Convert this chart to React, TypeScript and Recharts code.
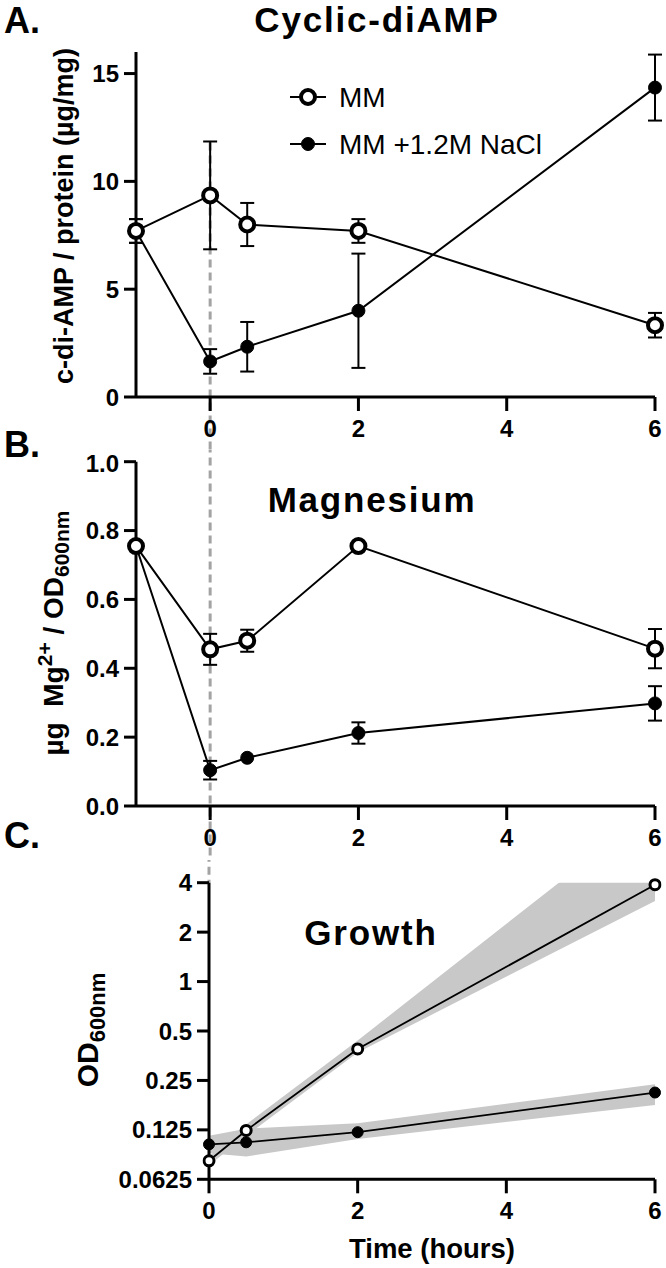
import React from "react";
import { ComposedChart, LineChart, Line, Area, XAxis, YAxis, ErrorBar, ReferenceLine, Legend } from "recharts";

const FONT = '"Liberation Sans", Arial, sans-serif';

const seriesNames = ["MM", "MM +1.2M NaCl"];

// panels A and B share the time points
const hoursAB = [-1, 0, 0.5, 2, 6];
const cdaMM = [7.7, 9.35, 8.0, 7.7, 3.33];
const cdaMMErr = [0.55, 2.5, 1.0, 0.55, 0.57];
const cdaNaCl = [7.7, 1.65, 2.33, 4.0, 14.35];
const cdaNaClErr = [0.55, 0.57, 1.15, 2.65, 1.53];

const mgMM = [0.755, 0.455, 0.48, 0.755, 0.457];
const mgMMErr = [0, 0.045, 0.032, 0, 0.057];
const mgNaCl = [0.755, 0.104, 0.14, 0.212, 0.298];
const mgNaClErr = [0, 0.027, 0, 0.031, 0.05];

// panel C
const hoursC = [0, 0.5, 2, 6];
const odMM = [0.081, 0.124, 0.389, 3.89];
const odMMLow = [0.076, 0.115, 0.37, 3.1];
const odMMHigh = [0.086, 0.135, 0.438, 11.5];
const odNaCl = [0.102, 0.105, 0.121, 0.211];
const odNaClLow = [0.09, 0.086, 0.11, 0.177];
const odNaClHigh = [0.115, 0.127, 0.137, 0.237];

const timeTicks = [0, 2, 4, 6];
const cdaTicks = [0, 5, 10, 15];
const mgTicks = [0, 0.2, 0.4, 0.6, 0.8, 1.0];
const odTicks = [0.0625, 0.125, 0.25, 0.5, 1, 2, 4];

const cdaRows = hoursAB.map((t, i) => ({ t, mm: cdaMM[i], mmErr: cdaMMErr[i], nacl: cdaNaCl[i], naclErr: cdaNaClErr[i] }));
const mgRows = hoursAB.map((t, i) => ({ t, mm: mgMM[i], mmErr: mgMMErr[i], nacl: mgNaCl[i], naclErr: mgNaClErr[i] }));
const odRows = hoursC.map((t, i) => ({
  t,
  mm: odMM[i],
  nacl: odNaCl[i],
  mmBand: [odMMLow[i], odMMHigh[i]],
  naclBand: [odNaClLow[i], odNaClHigh[i]],
}));

const tickStyle = { fill: "#000", fontSize: 24, fontWeight: 700, fontFamily: FONT };
const axisStroke = { stroke: "#000", strokeWidth: 3 };
const openDot = { r: 7, fill: "#fff", stroke: "#000", strokeWidth: 4 };
const fullDot = { r: 6.5, fill: "#000", stroke: "#000", strokeWidth: 1 };
const dash = { stroke: "#a3a3a3", strokeWidth: 3, strokeDasharray: "8 5" };

function RotTitle({ lx, ly, size, children }: any) {
  return (
    <text x={lx} y={ly} transform={`rotate(-90 ${lx} ${ly})`} textAnchor="middle"
      fontFamily={FONT} fontWeight={700} fontSize={size} fill="#000">
      {children}
    </text>
  );
}

function BottomTitle({ lx, ly, children }: any) {
  return (
    <text x={lx} y={ly} textAnchor="middle" fontFamily={FONT} fontWeight={700} fontSize={27.5} fill="#000">
      {children}
    </text>
  );
}

function LegendBox() {
  const dots = [openDot, fullDot];
  return (
    <svg width={300} height={84}>
      {seriesNames.map((name, i) => {
        const cy = 17 + i * 47;
        return (
          <g key={name}>
            <line x1={4} x2={40} y1={cy} y2={cy} stroke="#000" strokeWidth={2} />
            <circle cx={22} cy={cy} {...dots[i]} />
            <text x={53} y={cy} dominantBaseline="central" fontFamily={FONT} fontSize={28} fill="#000">{name}</text>
          </g>
        );
      })}
    </svg>
  );
}

export default function App() {
  return (
    <div style={{ position: "absolute", left: 0, top: 0, width: 666, height: 1268, background: "#fff" }}>
      {/* A: cyclic-di-AMP */}
      <div style={{ position: "absolute", left: 0, top: 0 }}>
        <LineChart width={666} height={450} data={cdaRows} margin={{ top: 52, right: 11, left: 0, bottom: 0 }}>
          <XAxis dataKey="t" type="number" domain={[-1, 6]} ticks={timeTicks} tick={tickStyle}
            axisLine={axisStroke} tickLine={axisStroke} tickSize={14} tickMargin={9} height={53} />
          <YAxis type="number" domain={[0, 16]} ticks={cdaTicks} tick={tickStyle} axisLine={axisStroke}
            tickLine={axisStroke} tickSize={12} tickMargin={5} width={136}
            label={<RotTitle lx={73} ly={216} size={27}>c-di-AMP / protein (µg/mg)</RotTitle>} />
          <ReferenceLine segment={[{ x: 0, y: 11.8 }, { x: 0, y: -2.6 }]} ifOverflow="visible" {...dash} />
          <Line dataKey="nacl" type="linear" stroke="#000" strokeWidth={2} dot={fullDot} isAnimationActive={false}>
            <ErrorBar dataKey="naclErr" width={7} stroke="#000" strokeWidth={2} direction="y" />
          </Line>
          <Line dataKey="mm" type="linear" stroke="#000" strokeWidth={2} dot={openDot} isAnimationActive={false}>
            <ErrorBar dataKey="mmErr" width={7} stroke="#000" strokeWidth={2} direction="y" />
          </Line>
          <Legend layout="vertical" align="center" verticalAlign="middle" content={() => <LegendBox />}
            wrapperStyle={{ left: 286, top: 80, width: 300, height: 84 }} />
        </LineChart>
      </div>

      {/* B: magnesium */}
      <div style={{ position: "absolute", left: 0, top: 450 }}>
        <LineChart width={666} height={410} data={mgRows} margin={{ top: 11.7, right: 11, left: 0, bottom: 0 }}>
          <XAxis dataKey="t" type="number" domain={[-1, 6]} ticks={timeTicks} tick={tickStyle}
            axisLine={axisStroke} tickLine={axisStroke} tickSize={14} tickMargin={9} height={54} />
          <YAxis type="number" domain={[0, 1]} ticks={mgTicks} tick={tickStyle} axisLine={axisStroke}
            tickLine={axisStroke} tickSize={12} tickMargin={5} width={136}
            tickFormatter={(v: number) => v.toFixed(1)}
            label={
              <RotTitle lx={63} ly={183} size={28}>
                <tspan>µg{"\u00A0\u00A0"}Mg</tspan>
                <tspan dy={-11} fontSize={21}>2+</tspan>
                <tspan dy={11}>{"\u00A0/\u00A0"}OD</tspan>
                <tspan dy={6} fontSize={21}>600nm</tspan>
              </RotTitle>
            } />
          <ReferenceLine segment={[{ x: 0, y: 1.05 }, { x: 0, y: -0.17 }]} ifOverflow="visible" {...dash} />
          <Line dataKey="nacl" type="linear" stroke="#000" strokeWidth={2} dot={fullDot} isAnimationActive={false}>
            <ErrorBar dataKey="naclErr" width={7} stroke="#000" strokeWidth={2} direction="y" />
          </Line>
          <Line dataKey="mm" type="linear" stroke="#000" strokeWidth={2} dot={openDot} isAnimationActive={false}>
            <ErrorBar dataKey="mmErr" width={7} stroke="#000" strokeWidth={2} direction="y" />
          </Line>
        </LineChart>
      </div>

      {/* C: growth */}
      <div style={{ position: "absolute", left: 0, top: 860 }}>
        <ComposedChart width={666} height={408} data={odRows} margin={{ top: 22.7, right: 11, left: 0, bottom: 0 }}>
          <XAxis dataKey="t" type="number" domain={[0, 6]} ticks={timeTicks} tick={tickStyle}
            axisLine={axisStroke} tickLine={axisStroke} tickSize={14} tickMargin={9} height={88.7}
            label={<BottomTitle lx={432} ly={398}>Time (hours)</BottomTitle>} />
          <YAxis type="number" scale="log" domain={[0.0625, 4]} allowDataOverflow ticks={odTicks}
            tick={tickStyle} axisLine={axisStroke} tickLine={axisStroke} tickSize={12} tickMargin={5} width={209}
            tickFormatter={(v: number) => String(v)}
            label={
              <RotTitle lx={98} ly={170} size={30}>
                <tspan>OD</tspan>
                <tspan dy={7} fontSize={22}>600nm</tspan>
              </RotTitle>
            } />
          <ReferenceLine segment={[{ x: 0, y: 6 }, { x: 0, y: 4 }]} ifOverflow="visible" {...dash} />
          <Area dataKey="naclBand" type="linear" stroke="none" fill="#c8c8c8" fillOpacity={1}
            dot={false} activeDot={false} isAnimationActive={false} />
          <Area dataKey="mmBand" type="linear" stroke="none" fill="#c8c8c8" fillOpacity={1}
            dot={false} activeDot={false} isAnimationActive={false} />
          <Line dataKey="nacl" type="linear" stroke="#000" strokeWidth={1.8}
            dot={{ r: 5.5, fill: "#000", stroke: "#000", strokeWidth: 1, clipDot: false }} isAnimationActive={false} />
          <Line dataKey="mm" type="linear" stroke="#000" strokeWidth={1.8}
            dot={{ r: 5, fill: "#fff", stroke: "#000", strokeWidth: 3, clipDot: false }} isAnimationActive={false} />
        </ComposedChart>
      </div>

      {/* panel letters and titles */}
      <svg width={666} height={1268} style={{ position: "absolute", left: 0, top: 0, pointerEvents: "none" }}>
        <g fontFamily={FONT} fontWeight={700} fontSize={36} fill="#000">
          <text x={4} y={33}>A.</text>
          <text x={4} y={457}>B.</text>
          <text x={4} y={848}>C.</text>
        </g>
        <g fontFamily={FONT} fontWeight={700} fontSize={35} fill="#000" textAnchor="middle" letterSpacing={1.8}>
          <text x={377} y={32}>Cyclic-diAMP</text>
          <text x={372} y={512}>Magnesium</text>
          <text x={371} y={945}>Growth</text>
        </g>
      </svg>
    </div>
  );
}
